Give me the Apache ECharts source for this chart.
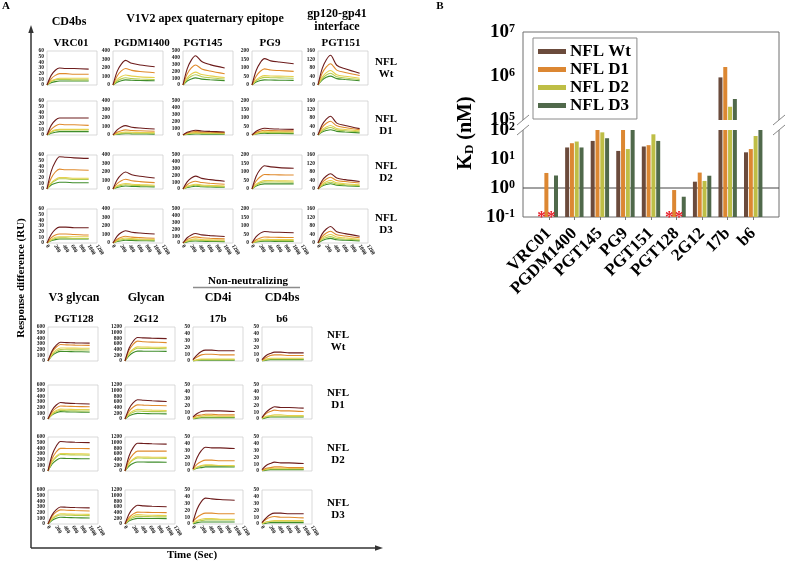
<!DOCTYPE html>
<html>
<head>
<meta charset="utf-8">
<script src="https://cdn.jsdelivr.net/npm/echarts@6/dist/echarts.min.js"></script>
<style>
  html, body { margin: 0; padding: 0; background: #fff; }
  #chart { width: 787px; height: 562px; }
</style>
</head>
<body>
<div id="chart"></div>
<script>
// Panel A: SPR sensorgrams, panel B: K_D bar chart (broken log axis)

// ---- data ----
const T = [0, 100, 200, 300, 450, 650, 1000] // sec
const timeTicks = [0, 200, 400, 600, 800, 1000, 1200]
const constructs = ['NFL Wt', 'NFL D1', 'NFL D2', 'NFL D3']
const rowNames = [['NFL', 'Wt'], ['NFL', 'D1'], ['NFL', 'D2'], ['NFL', 'D3']]

const topAbs = ['VRC01', 'PGDM1400', 'PGT145', 'PG9', 'PGT151']
const topMax = [60, 400, 500, 200, 160]
const topStep = [10, 100, 100, 50, 40]
const botAbs = ['PGT128', '2G12', '17b', 'b6']
const botMax = [600, 1200, 50, 50]
const botStep = [100, 200, 10, 10]

// each: [Wt, D1, D2, D3], each of those 5 concentrations (high -> low)
const VRC01 = [
  [[0,17,26,30,29,29,28],[0,11,17,20,20,19,19],[0,7,10,12,12,12,12],[0,6,9,10,10,9,9],[0,4,6,7,7,7,7]],
  [[0,17,26,30,30,30,30],[0,10,16,19,18,18,17],[0,6,9,10,10,10,10],[0,5,8,9,9,9,9],[0,3,5,6,6,6,6]],
  [[0,31,48,57,56,55,54],[0,19,30,35,34,34,33],[0,11,17,20,20,19,19],[0,10,15,18,18,17,17],[0,7,10,12,12,11,11]],
  [[0,15,24,28,28,27,27],[0,9,14,16,16,15,14],[0,6,10,11,11,11,11],[0,5,8,9,9,8,8],[0,4,6,7,7,7,7]]
]
const PGDM1400 = [
  [[0,160,245,290,255,235,215],[0,107,166,195,172,158,145],[0,65,100,118,104,96,88],[0,47,72,85,76,71,65],[0,33,51,60,56,53,50]],
  [[0,60,94,110,92,82,70],[0,33,51,60,53,50,45],[0,19,30,35,32,30,28],[0,14,21,25,23,22,20],[0,8,13,15,13,12,10]],
  [[0,110,170,200,168,150,130],[0,63,98,115,97,87,75],[0,36,55,65,56,51,45],[0,28,43,50,43,40,35],[0,19,30,35,31,28,25]],
  [[0,80,123,145,127,117,105],[0,44,68,80,69,63,55],[0,32,49,58,51,47,42],[0,25,38,45,41,38,35],[0,18,27,32,29,27,25]]
]
const PGT145 = [
  [[0,237,366,430,345,300,250],[0,162,251,295,236,205,165],[0,105,162,190,154,134,110],[0,83,128,150,122,107,88],[0,58,89,105,87,77,65]],
  [[0,39,60,70,59,53,45],[0,28,43,50,43,40,35],[0,19,30,35,32,30,28],[0,14,21,25,23,22,20],[0,8,13,15,13,12,10]],
  [[0,105,162,190,156,138,115],[0,63,98,115,95,84,70],[0,39,60,70,59,53,45],[0,30,47,55,46,41,35],[0,22,34,40,33,30,25]],
  [[0,77,119,140,120,109,95],[0,50,77,90,77,69,60],[0,33,51,60,51,46,40],[0,25,38,45,38,35,30],[0,17,26,30,26,23,20]]
]
const PG9 = [
  [[0,85,132,155,142,135,125],[0,52,81,95,88,85,80],[0,30,47,55,53,52,50],[0,25,38,45,43,42,40],[0,17,26,30,29,28,27]],
  [[0,22,34,40,37,35,33],[0,15,24,28,26,25,24],[0,11,17,20,19,19,18],[0,8,13,15,14,14,13],[0,6,9,10,9,9,8]],
  [[0,75,116,137,130,126,122],[0,47,72,85,84,83,82],[0,28,43,50,49,48,47],[0,23,36,42,41,41,40],[0,17,26,30,30,30,30]],
  [[0,37,58,68,65,63,60],[0,19,30,35,34,33,32],[0,12,19,22,21,21,20],[0,8,13,15,15,14,14],[0,6,9,10,10,9,9]]
]
const PGT151 = [
  [[0,77,119,140,93,76,55],[0,55,85,100,70,59,45],[0,37,58,68,48,41,32],[0,30,47,55,39,33,26],[0,23,36,42,30,26,20]],
  [[0,48,75,88,56,45,30],[0,36,55,65,43,35,25],[0,25,38,45,31,26,20],[0,19,30,35,24,20,15],[0,14,21,25,17,14,10]],
  [[0,40,61,72,52,44,35],[0,30,47,55,40,35,28],[0,22,34,40,29,25,20],[0,18,27,32,23,20,16],[0,14,21,25,18,15,12]],
  [[0,43,66,78,53,44,32],[0,30,47,55,39,33,25],[0,22,34,40,28,24,18],[0,17,26,30,21,18,14],[0,12,19,22,15,13,10]]
]
const PGT128 = [
  [[0,182,281,330,325,320,315],[0,160,247,290,285,280,275],[0,127,196,230,228,227,225],[0,110,170,200,198,196,195],[0,94,145,170,167,164,160]],
  [[0,160,247,290,280,273,265],[0,127,196,230,225,220,215],[0,96,149,175,171,168,165],[0,83,128,150,146,144,140],[0,72,111,130,126,123,120]],
  [[0,286,442,520,513,507,500],[0,220,340,400,398,397,395],[0,171,264,310,306,303,300],[0,160,247,290,287,284,280],[0,124,191,225,221,218,215]],
  [[0,165,255,300,295,290,285],[0,138,213,250,243,237,230],[0,99,153,180,177,173,170],[0,88,136,160,156,152,148],[0,66,102,120,115,110,105]]
]
const G2G12 = [
  [[0,457,706,830,815,805,790],[0,385,595,700,682,667,650],[0,275,425,500,493,487,480],[0,248,383,450,445,440,435],[0,193,298,350,346,343,340]],
  [[0,374,578,680,660,642,620],[0,275,425,500,488,479,470],[0,187,289,340,325,312,300],[0,154,238,280,270,262,255],[0,110,170,200,193,187,180]],
  [[0,539,833,980,970,960,950],[0,385,595,700,700,700,700],[0,275,425,500,493,487,480],[0,253,391,460,455,450,445],[0,176,272,320,316,313,310]],
  [[0,363,561,660,640,625,610],[0,231,357,420,413,407,400],[0,182,281,330,317,308,300],[0,149,230,270,262,256,250],[0,110,170,200,196,193,190]]
]
const B17b = [
  [[2,9,14,16,16,15,15],[2,6,9,10,10,9,9],[1,2,3,3,3,3,3],[0,1,2,2,2,2,2],[0,1,1,1,1,1,1]],
  [[3,8,11,12,12,12,11],[2,5,6,7,7,6,6],[1,3,4,5,5,4,4],[1,2,3,3,3,3,3],[0,1,2,2,2,2,2]],
  [[3,20,30,35,34,34,33],[3,10,14,16,16,15,15],[2,6,8,9,9,8,8],[2,5,7,8,8,8,7],[2,4,5,6,6,6,6]],
  [[3,22,33,38,37,36,35],[4,10,14,16,16,15,15],[2,5,7,8,8,7,7],[1,4,5,6,6,6,6],[0,2,3,3,3,3,3]]
]
const B6 = [
  [[2,8,11,13,13,12,12],[1,5,8,9,9,8,8],[1,3,4,4,4,4,4],[0,2,3,3,3,3,3],[0,1,2,2,2,2,2]],
  [[2,10,15,18,17,17,16],[2,8,11,13,12,12,11],[1,4,5,6,6,5,5],[1,3,4,4,4,4,4],[0,2,3,3,3,3,3]],
  [[2,8,11,13,12,12,11],[1,4,5,6,6,5,5],[1,3,4,4,4,4,4],[1,2,3,3,3,3,3],[0,1,2,2,2,2,2]],
  [[2,9,14,16,16,15,15],[2,7,10,11,10,10,9],[1,3,4,5,5,5,5],[0,3,4,4,4,4,4],[0,1,2,2,2,2,2]]
]
const topData = [VRC01, PGDM1400, PGT145, PG9, PGT151]
const botData = [PGT128, G2G12, B17b, B6]

// panel B, K_D (nM); null = not detected (*)
const kdCats = ['VRC01', 'PGDM1400', 'PGT145', 'PG9', 'PGT151', 'PGT128', '2G12', '17b', 'b6']
const kdWt = [null, 25, 42, 19, 27, null, 1.65, 9.3e5, 17]
const kdD1 = [3.3, 35, 110, 120, 30, 0.85, 3.4, 1.6e6, 22]
const kdD2 = [null, 40, 83, 22, 71, null, 1.75, 2.0e5, 62]
const kdD3 = [2.7, 25, 52, 150, 42, 0.5, 2.65, 3.0e5, 110]

// ---- styles / layout ----
const SERIF = '"Liberation Serif", "Times New Roman", serif'
const curveColors = ['#6d1c1c', '#e08a2c', '#e5d14e', '#b3cd4f', '#3f8d2b']
const barColors = ['#6b4b3c', '#dc8732', '#bebe46', '#50694b']

const topCols = [47, 113, 183, 252, 318]
const topRows = [51, 101, 155, 209]
const botCols = [48, 125, 193, 262]
const botRows = [327, 385, 437, 490]
const BOX_W = 50
const BOX_H = 34

const chart = echarts.init(document.getElementById('chart'), null, { renderer: 'canvas' })

const grids = []
const xAxes = []
const yAxes = []
const series = []

const tinyLabel = {
  hideOverlap: false, fontSize: 5.5, fontWeight: 'bold', fontFamily: SERIF, color: '#222',
  showMinLabel: true, showMaxLabel: true, formatter: v => String(v)
}
function ticksOf(max, step, parity) {
  const out = []
  for (let i = 0; i * step <= max; i++) if (i % 2 === parity) out.push(i * step)
  return out
}
function miniY(k, max, step, parity) {
  // labels split over two axes (even / odd ticks) so none of them get dropped
  return {
    type: 'value', gridIndex: k, min: 0, max: max, interval: step, position: 'left', offset: 0,
    axisLine: { show: false }, axisTick: { show: false }, splitLine: { show: false },
    axisLabel: Object.assign({}, tinyLabel, { margin: 3, customValues: ticksOf(max, step, parity) })
  }
}

function addPanel(curves, left, top, max, step, showX) {
  const k = grids.length
  grids.push({
    left: left, top: top, width: BOX_W, height: BOX_H,
    show: true, borderColor: '#cfcfcf', borderWidth: 0.8,
    containLabel: false, outerBoundsMode: 'none'
  })
  const xi = xAxes.length
  xAxes.push({
    type: 'value', gridIndex: k, min: 0, max: 1200, interval: 200,
    axisLine: { show: false }, axisTick: { show: false }, splitLine: { show: false },
    axisLabel: Object.assign({}, tinyLabel, { show: showX, rotate: -60, margin: 2, customValues: timeTicks })
  })
  const yi = yAxes.length
  yAxes.push(miniY(k, max, step, 0))
  yAxes.push(miniY(k, max, step, 1))
  curves.forEach((c, n) => {
    series.push({
      type: 'line', xAxisIndex: xi, yAxisIndex: yi, silent: true,
      data: T.map((t, i) => [t, c[i]]),
      showSymbol: false, smooth: 0.3,
      lineStyle: { width: 1.1, color: curveColors[n] },
      z: 10 - n
    })
  })
}

topData.forEach((d, j) => topRows.forEach((top, i) => {
  addPanel(d[i], topCols[j], top, topMax[j], topStep[j], i === 3)
}))
botData.forEach((d, j) => botRows.forEach((top, i) => {
  addPanel(d[i], botCols[j], top, botMax[j], botStep[j], i === 3)
}))

// ---- panel B ----
const B_LEFT = 523, B_RIGHT = 779, B_TOP = 32, B_BREAK1 = 120, B_BREAK2 = 130, B_BOTTOM = 217
const upGrid = grids.length
const loGrid = upGrid + 1
const upX = xAxes.length, loX = upX + 1
const upY = yAxes.length, loY = upY + 1
const logLabel = {
  margin: 21, fontFamily: SERIF, color: '#000',
  formatter: v => '{b|10}{s|' + Math.round(Math.log10(v)) + '}',
  rich: {
    b: { fontSize: 19, fontWeight: 'bold', fontFamily: SERIF, color: '#000' },
    s: { fontSize: 12, fontWeight: 'bold', fontFamily: SERIF, color: '#000', verticalAlign: 'top' }
  }
}
grids.push({ left: 536, width: 230, top: B_TOP, height: B_BREAK1 - B_TOP, containLabel: false, outerBoundsMode: 'none' })
grids.push({ left: 536, width: 230, top: B_BREAK2, height: B_BOTTOM - B_BREAK2, containLabel: false, outerBoundsMode: 'none' })
xAxes.push({ type: 'category', gridIndex: upGrid, data: kdCats, show: false })
xAxes.push({
  type: 'category', gridIndex: loGrid, data: kdCats,
  axisLine: { show: false },
  axisTick: { show: true, alignWithLabel: true, length: 3, lineStyle: { color: '#777' } },
  axisLabel: { interval: 0, rotate: 45, margin: 14, fontSize: 17, fontWeight: 'bold', fontFamily: SERIF, color: '#000' }
})
yAxes.push({
  type: 'log', gridIndex: upGrid, min: 1e5, max: 1e7, logBase: 10, startValue: 1e5,
  axisLine: { show: false }, axisTick: { show: false }, splitLine: { show: false },
  axisLabel: logLabel
})
yAxes.push({
  type: 'log', gridIndex: loGrid, min: 0.1, max: 100, logBase: 10, startValue: 0.1,
  axisLine: { show: false }, axisTick: { show: false }, splitLine: { show: false },
  axisLabel: logLabel
})

const star = {
  show: true, position: 'insideBottom', distance: 0, formatter: '*', offset: [0, 9],
  color: '#e8202a', fontSize: 17, fontWeight: 'bold', fontFamily: SERIF
}
;[kdWt, kdD1, kdD2, kdD3].forEach((vals, s) => {
  series.push({
    type: 'bar', name: constructs[s], xAxisIndex: upX, yAxisIndex: upY,
    data: vals.map(v => (v == null ? '-' : v)),
    barWidth: 4, barGap: '20%', itemStyle: { color: barColors[s] }, clip: true, silent: true
  })
  series.push({
    type: 'bar', name: constructs[s], xAxisIndex: loX, yAxisIndex: loY,
    data: vals.map(v => (v == null ? { value: 0.1, label: star } : v)),
    barWidth: 4, barGap: '20%', itemStyle: { color: barColors[s] }, clip: true, silent: true
  })
})

// ---- texts & decorations ----
const bold = (size) => 'bold ' + size + 'px ' + SERIF
function txt(text, x, y, size, extra) {
  return Object.assign({
    type: 'text', x: x, y: y, silent: true,
    style: { text: text, font: bold(size), fill: '#000', align: 'center', verticalAlign: 'middle' }
  }, extra || {})
}
function line(x1, y1, x2, y2, color, w) {
  return { type: 'line', silent: true, shape: { x1, y1, x2, y2 }, style: { stroke: color, lineWidth: w } }
}

const graphic = []
graphic.push(txt('A', 6, 6, 11))
graphic.push(txt('B', 440, 6, 11))
graphic.push(txt('CD4bs', 69, 22, 12))
graphic.push(txt('V1V2 apex quaternary epitope', 205, 19, 12))
graphic.push(txt('gp120-gp41', 337, 14, 12))
graphic.push(txt('interface', 337, 27, 12))
const topNameX = [71, 142, 203, 270, 341]
topAbs.forEach((n, j) => graphic.push(txt(n, topNameX[j], 43, 11)))
const topRowY = [62, 119, 166, 218]
rowNames.forEach((r, i) => {
  graphic.push(txt(r[0], 386, topRowY[i], 11))
  graphic.push(txt(r[1], 386, topRowY[i] + 12, 11))
})
graphic.push(txt('Non-neutralizing', 248, 281, 11))
graphic.push(line(193, 287.5, 300, 287.5, '#8c8c8c', 1.6))
const botHead = ['V3 glycan', 'Glycan', 'CD4i', 'CD4bs']
const botNameX = [74, 146, 218, 282]
botHead.forEach((n, j) => graphic.push(txt(n, botNameX[j], 298, 12)))
botAbs.forEach((n, j) => graphic.push(txt(n, botNameX[j], 319, 11)))
const botRowY = [335, 393, 448, 503]
rowNames.forEach((r, i) => {
  graphic.push(txt(r[0], 338, botRowY[i], 11))
  graphic.push(txt(r[1], 338, botRowY[i] + 12, 11))
})
// axes arrows of panel A
graphic.push(line(31, 548, 31, 31, '#333', 1.5))
graphic.push(line(31, 548, 377, 548, '#333', 1.5))
graphic.push({ type: 'polygon', silent: true, shape: { points: [[31, 25], [28.3, 33], [33.7, 33]] }, style: { fill: '#333' } })
graphic.push({ type: 'polygon', silent: true, shape: { points: [[383, 548], [375, 545.3], [375, 550.7]] }, style: { fill: '#333' } })
graphic.push(txt('Response difference (RU)', 21, 278, 11, { rotation: Math.PI / 2 }))
graphic.push(txt('Time (Sec)', 192, 555, 11))

// panel B frame with break
const fc = '#6e6e6e'
graphic.push(line(B_LEFT, B_TOP, B_RIGHT, B_TOP, fc, 1))
graphic.push(line(B_LEFT, B_BOTTOM, B_RIGHT, B_BOTTOM, fc, 1))
graphic.push(line(B_LEFT, B_TOP, B_LEFT, B_BREAK1, fc, 1))
graphic.push(line(B_LEFT, B_BREAK2, B_LEFT, B_BOTTOM, fc, 1))
graphic.push(line(B_RIGHT, B_TOP, B_RIGHT, B_BREAK1, fc, 1))
graphic.push(line(B_RIGHT, B_BREAK2, B_RIGHT, B_BOTTOM, fc, 1))
;[B_LEFT, B_RIGHT].forEach(x => {
  graphic.push(line(x - 6, 125, x + 6, 115, '#888', 1))
  graphic.push(line(x - 6, 135, x + 6, 125, '#888', 1))
})
graphic.push({
  type: 'text', x: 466, y: 133, rotation: Math.PI / 2, silent: true,
  style: {
    text: '{k|K}{d|D}{k| (nM)}', align: 'center', verticalAlign: 'middle',
    rich: {
      k: { font: bold(20), fill: '#000' },
      d: { font: bold(13), fill: '#000', verticalAlign: 'bottom' }
    }
  }
})

const option = {
  animation: false,
  backgroundColor: '#fff',
  grid: grids,
  xAxis: xAxes,
  yAxis: yAxes,
  legend: {
    data: constructs, orient: 'vertical', left: 533, top: 38,
    selectedMode: false, icon: 'rect', itemWidth: 28, itemHeight: 5, itemGap: 1,
    padding: [5, 6, 5, 5], borderColor: '#8a8a8a', borderWidth: 1, backgroundColor: '#fff',
    textStyle: { fontSize: 17, fontWeight: 'bold', fontFamily: SERIF, color: '#000', padding: [0, 0, 0, -1] }
  },
  graphic: graphic,
  series: series
}
chart.setOption(option)

// reference line at K_D = 1 nM, placed through the log axis
const y1 = chart.convertToPixel({ yAxisIndex: loY }, 1)
graphic.push(line(B_LEFT, y1, B_RIGHT, y1, '#444', 1))
chart.setOption({ graphic: graphic })
</script>
</body>
</html>
